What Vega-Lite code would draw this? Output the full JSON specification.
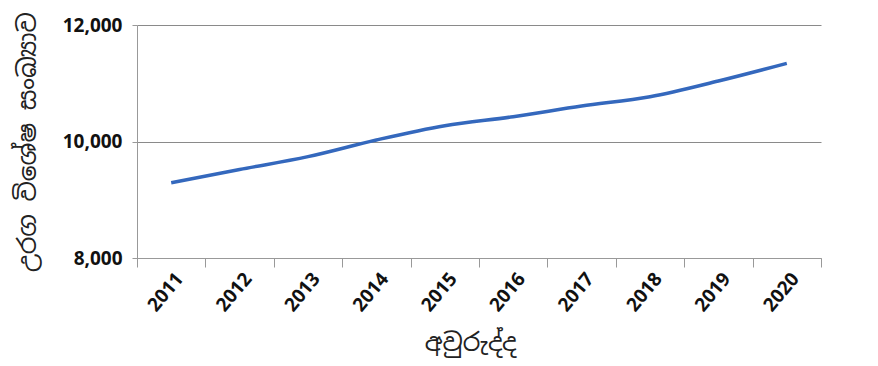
{
  "$schema": "https://vega.github.io/schema/vega-lite/v6.json",
  "width": 684,
  "height": 233,
  "autosize": "none",
  "padding": {"left": 137, "top": 25, "right": 57, "bottom": 108},
  "background": "white",
  "config": {"view": {"stroke": null}},
  "data": {
    "values": [
      {"year": "2011", "species": 9293},
      {"year": "2012", "species": 9520},
      {"year": "2013", "species": 9740},
      {"year": "2014", "species": 10026},
      {"year": "2015", "species": 10271},
      {"year": "2016", "species": 10426},
      {"year": "2017", "species": 10609},
      {"year": "2018", "species": 10769},
      {"year": "2019", "species": 11039},
      {"year": "2020", "species": 11342}
    ]
  },
  "mark": {"type": "line", "color": "#3468BD", "strokeWidth": 3.5, "interpolate": "monotone"},
  "encoding": {
    "x": {
      "field": "year",
      "type": "ordinal",
      "scale": {"type": "band", "paddingInner": 0, "paddingOuter": 0},
      "axis": {
        "title": "අවුරුද්ද",
        "titleFont": "Noto Sans Sinhala, Noto Serif Sinhala, sans-serif",
        "titleFontSize": 25,
        "titleFontWeight": "normal",
        "titleColor": "#222",
        "titlePadding": 16,
        "titleX": 333,
        "labelAngle": -50,
        "labelAlign": "right",
        "labelBaseline": "middle",
        "labelFont": "Open Sans",
        "labelFontWeight": "bold",
        "labelFontSize": 19,
        "labelColor": "#111",
        "labelPadding": 8,
        "labelOffset": 8,
        "tickBand": "extent",
        "tickSize": 9,
        "tickColor": "#999",
        "domainColor": "#999",
        "grid": false
      }
    },
    "y": {
      "field": "species",
      "type": "quantitative",
      "scale": {"domain": [8000, 12000], "nice": false, "zero": false},
      "axis": {
        "title": "උරග විශේෂ සංඛ්‍යාව",
        "titleFont": "Noto Sans Sinhala, Noto Serif Sinhala, sans-serif",
        "titleFontSize": 25,
        "titleFontWeight": "normal",
        "titleColor": "#222",
        "titlePadding": 22,
        "values": [8000, 10000, 12000],
        "format": ",.0f",
        "labelFont": "Open Sans",
        "labelFontWeight": "bold",
        "labelFontSize": 19,
        "labelColor": "#111",
        "labelPadding": 10,
        "tickSize": 5,
        "tickColor": "#999",
        "domainColor": "#999",
        "grid": true,
        "gridColor": "#8a8a8a",
        "gridWidth": 1
      }
    }
  }
}
